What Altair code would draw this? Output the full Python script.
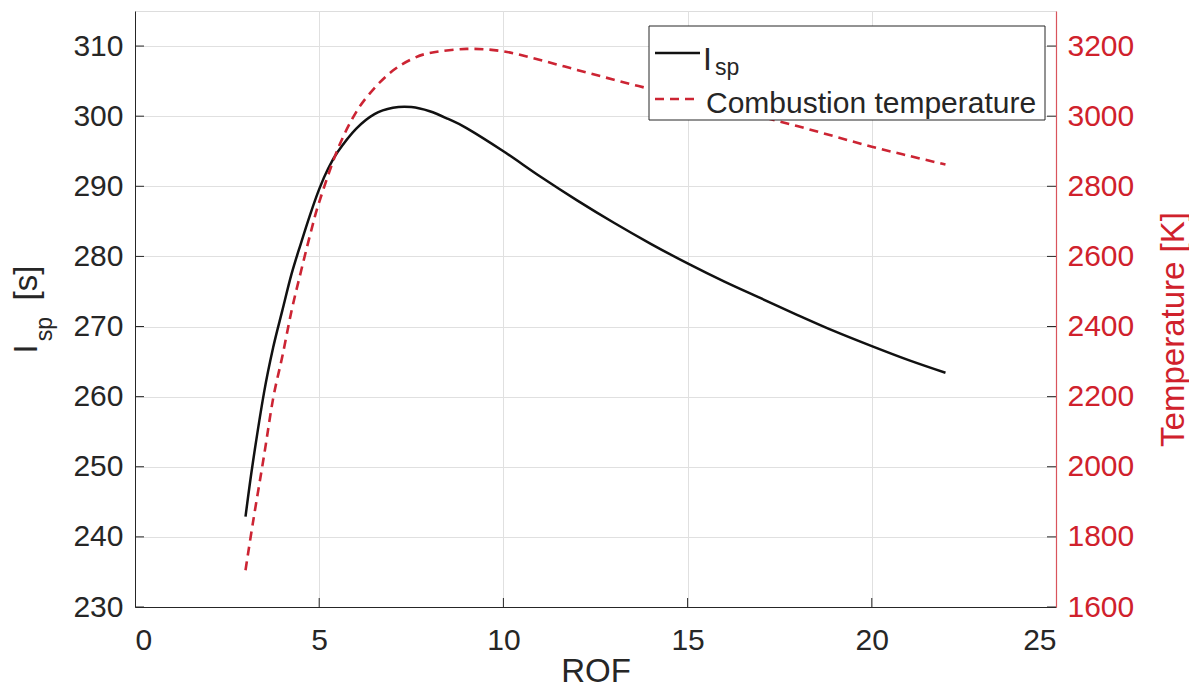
import altair as alt
import pandas as pd

# ---- data ----
rof_isp = [3, 3.2, 3.5, 3.75, 4, 4.25, 4.5, 4.75, 5, 5.25, 5.5, 6, 6.5, 7, 7.5, 8, 8.5, 9,
           10, 11, 12, 13, 14, 15, 16, 17, 18, 19, 20, 21, 22]
isp = [242.9, 250.6, 260.5, 267.0, 272.3, 277.5, 281.8, 285.9, 289.6, 292.6, 294.9, 298.2,
       300.3, 301.2, 301.3, 300.7, 299.6, 298.3, 295.0, 291.4, 288.0, 284.8, 281.8,
       279.0, 276.4, 274.0, 271.6, 269.3, 267.2, 265.2, 263.4]
rof_t = [3, 3.2, 3.5, 3.75, 4, 4.25, 4.5, 4.75, 5, 5.5, 6, 6.5, 7, 7.5, 8, 9,
         10, 11, 12, 13, 14, 15, 16, 17, 18, 19, 20, 21, 22]
temp = [1705, 1840, 2030, 2195, 2315, 2445, 2555, 2660, 2755, 2905, 3011, 3080, 3130,
        3162, 3180, 3192, 3185, 3160, 3132, 3104, 3077, 3050, 3024, 2998, 2971, 2942,
        2913, 2887, 2862]
x_ticks = [0, 5, 10, 15, 20, 25]
isp_ticks = [230, 240, 250, 260, 270, 280, 290, 300, 310]
t_ticks = [1600, 1800, 2000, 2200, 2400, 2600, 2800, 3000, 3200]
x_inner_ticks = [5, 10, 15, 20]

W, H = 921, 596
FONT = "Liberation Sans"
DARK = "#262626"
RED = "#d0212c"
LINE_RED = "#cc2433"
GRID = "#e0e0e0"

isp_df = pd.DataFrame({"ROF": rof_isp, "Isp": isp})
t_df = pd.DataFrame({"ROF": rof_t, "T": temp})
xt_df = pd.DataFrame({"ROF": x_inner_ticks})
yt_df = pd.DataFrame({"Isp": isp_ticks})
one = pd.DataFrame({"a": [0]})

x_scale = alt.Scale(domain=[0, 25], nice=False)
x_axis = alt.Axis(values=x_ticks, title="ROF", grid=True, gridColor=GRID, ticks=False,
                  tickSize=0, labelFont=FONT, labelFontSize=30, labelColor=DARK,
                  labelPadding=18, titleFont=FONT, titleFontSize=33, titleColor=DARK,
                  titleFontWeight="normal", titleY=74, titleBaseline="alphabetic",
                  domainColor=DARK, domainWidth=1)
y_scale = alt.Scale(domain=[230, 315], nice=False)
y_axis = alt.Axis(values=isp_ticks, title=None, orient="left", grid=True, gridColor=GRID,
                  ticks=False, tickSize=0, labelFont=FONT, labelFontSize=30,
                  labelColor=DARK, labelPadding=12, domainColor=DARK, domainWidth=1)

X = alt.X("ROF:Q", scale=x_scale, axis=x_axis)
Y = alt.Y("Isp:Q", scale=y_scale, axis=y_axis)

isp_line = alt.Chart(isp_df).mark_line(color="#111111", strokeWidth=2.5,
                                       interpolate="cardinal").encode(x=X, y=Y)
bottom_ticks = alt.Chart(xt_df).mark_rule(color=DARK, strokeWidth=1).encode(
    x=X, y=alt.value(H), y2=alt.value(H - 9))
left_ticks = alt.Chart(yt_df).mark_rule(color=DARK, strokeWidth=1).encode(
    y=Y, x=alt.value(0), x2=alt.value(9))
right_ticks = alt.Chart(yt_df).mark_rule(color=DARK, strokeWidth=1).encode(
    y=Y, x=alt.value(W - 9), x2=alt.value(W))

left_layer = alt.layer(isp_line, bottom_ticks, left_ticks, right_ticks)

t_line = alt.Chart(t_df).mark_line(color=LINE_RED, strokeWidth=2.6, strokeDash=[9, 6],
                                   interpolate="cardinal").encode(
    x=X,
    y=alt.Y("T:Q", scale=alt.Scale(domain=[1600, 3300], nice=False),
            axis=alt.Axis(values=t_ticks, format="d", orient="right",
                          title="Temperature [K]",
                          grid=False, ticks=False, tickSize=0, labelFont=FONT,
                          labelFontSize=30, labelColor=RED, labelPadding=11,
                          titleFont=FONT, titleFontSize=33, titleColor=RED,
                          titleFontWeight="normal", titleAngle=270, titleX=127,
                          titleY=318, titleBaseline="alphabetic",
                          domainColor="#d9545c", domainWidth=1.2, zindex=1)))

# ---- legend (drawn by hand so that I_sp can carry its subscript) ----
leg_box = alt.Chart(one).mark_rect(fill="white", stroke=DARK, strokeWidth=1).encode(
    x=alt.value(514), x2=alt.value(910), y=alt.value(15), y2=alt.value(109))
leg_solid = alt.Chart(one).mark_rule(color="#111111", strokeWidth=2.5).encode(
    x=alt.value(520), x2=alt.value(565), y=alt.value(42))
leg_dash = alt.Chart(one).mark_rule(color=LINE_RED, strokeWidth=2.6, strokeDash=[9, 6]).encode(
    x=alt.value(520), x2=alt.value(565), y=alt.value(88))
leg_I = alt.Chart(one).mark_text(text="I", font=FONT, fontSize=32, color=DARK,
                                 align="left", baseline="alphabetic").encode(
    x=alt.value(568), y=alt.value(59))
leg_sp = alt.Chart(one).mark_text(text="sp", font=FONT, fontSize=23, color=DARK,
                                  align="left", baseline="alphabetic").encode(
    x=alt.value(580), y=alt.value(64))
leg_T = alt.Chart(one).mark_text(text="Combustion temperature", font=FONT, fontSize=30,
                                 color=DARK, align="left", baseline="alphabetic").encode(
    x=alt.value(571), y=alt.value(102))

# ---- left axis title I_sp [s] ----
tit_I = alt.Chart(one).mark_text(text="I", font=FONT, fontSize=33, color=DARK, angle=270,
                                 align="center", baseline="alphabetic").encode(
    x=alt.value(-98), y=alt.value(338))
tit_sp = alt.Chart(one).mark_text(text="sp", font=FONT, fontSize=23, color=DARK, angle=270,
                                  align="center", baseline="alphabetic").encode(
    x=alt.value(-83), y=alt.value(318))
tit_s = alt.Chart(one).mark_text(text="[s]", font=FONT, fontSize=33, color=DARK, angle=270,
                                 align="center", baseline="alphabetic").encode(
    x=alt.value(-98), y=alt.value(272))

chart = alt.layer(
    left_layer, t_line, leg_box, leg_solid, leg_dash, leg_I, leg_sp, leg_T,
    tit_I, tit_sp, tit_s
).resolve_scale(y="independent").properties(
    width=W, height=H,
    autosize=alt.AutoSizeParams(type="none"),
    padding={"left": 127, "top": 3, "right": 133, "bottom": 82},
).configure_view(stroke=DARK, strokeWidth=1).configure(background="white")

chart.save("out.html", embed_options={"renderer": "svg", "actions": False})
